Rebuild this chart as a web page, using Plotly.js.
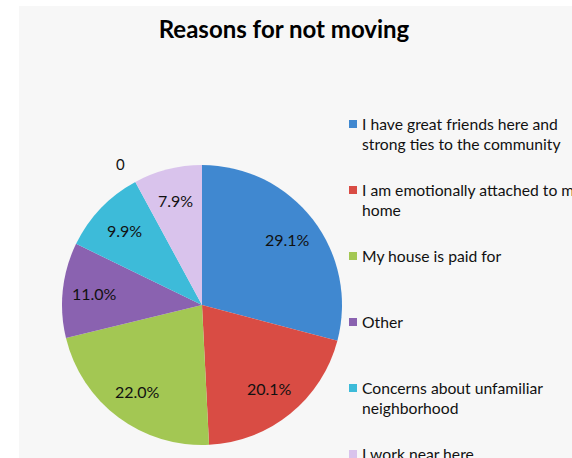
<!DOCTYPE html>
<html>
<head>
<meta charset="utf-8">
<script src="https://cdn.plot.ly/plotly-3.0.1.min.js"></script>
<style>html,body{margin:0;padding:0;background:#fff;}#chart{width:572px;height:458px;}</style>
</head>
<body>
<div id="chart"></div>
<script>
// Data
var categories = [
  "I have great friends here and<br>strong ties to the community",
  "I am emotionally attached to my<br>home",
  "My house is paid for",
  "Other",
  "Concerns about unfamiliar<br>neighborhood",
  "I work near here"
];
var percentValues = [29.1, 20.1, 22.0, 11.0, 9.9, 7.9];
var sliceColors = ["#4088d0", "#d94c44", "#a3c753", "#8a62b0", "#3dbbd9", "#d9c3ec"];
var strayLabel = "0";
var chartTitle = "Reasons for not moving";

var W = 572, H = 458;
function px(x){ return x / W; }
function py(y){ return 1 - y / H; }

var FONT = "Lato, 'Open Sans', sans-serif";

var cx = 202, cy = 305, r = 140;

var trace = {
  type: "pie",
  labels: categories.map(function(c){ return c.replace(/<br>/g, " "); }),
  values: percentValues,
  sort: false,
  direction: "clockwise",
  rotation: 0,
  marker: { colors: sliceColors, line: { width: 0 } },
  textinfo: "none",
  hoverinfo: "label+percent",
  showlegend: false,
  domain: { x: [px(cx - r), px(cx + r)], y: [py(cy + r), py(cy - r)] }
};

var shapes = [
  { type: "rect", xref: "paper", yref: "paper", x0: 0, x1: px(19), y0: 0, y1: 1, fillcolor: "#ffffff", line: { width: 0 }, layer: "above" },
  { type: "rect", xref: "paper", yref: "paper", x0: 0, x1: 1, y0: py(6), y1: 1, fillcolor: "#ffffff", line: { width: 0 }, layer: "above" }
];
var annotations = [
  { text: strayLabel, xref: "paper", yref: "paper", x: px(120), y: py(164), xanchor: "center", yanchor: "middle", showarrow: false, font: { family: FONT, size: 15, color: "#111" } }
];

// Data labels placed along each slice's mid-angle (Excel-style), computed from the values
var total = percentValues.reduce(function(a, b){ return a + b; }, 0);
var cum = 0;
percentValues.forEach(function(v, i){
  var mid = (cum + v / 2) / total * 2 * Math.PI; // clockwise from 12 o'clock
  cum += v;
  var dist = r * 0.77;
  var lx = cx + dist * Math.sin(mid);
  var ly = cy - dist * Math.cos(mid);
  annotations.push({ text: (v / total * 100).toFixed(1) + "%", xref: "paper", yref: "paper", x: px(lx), y: py(ly), xanchor: "center", yanchor: "middle", showarrow: false, font: { family: FONT, size: 16, color: "#111" } });
});

var legTop = 124, legStep = 66;
categories.forEach(function(c, i){
  var yc = legTop + i * legStep;
  shapes.push({ type: "rect", xref: "paper", yref: "paper", x0: px(349), x1: px(357), y0: py(yc + 4), y1: py(yc - 4), fillcolor: sliceColors[i], line: { width: 0 }, layer: "above" });
  annotations.push({ text: c, xref: "paper", yref: "paper", x: px(360), y: py(yc - 11), xanchor: "left", yanchor: "top", align: "left", showarrow: false, font: { family: FONT, size: 15.7, color: "#111" } });
});

var layout = {
  width: W, height: H,
  margin: { l: 0, r: 0, t: 0, b: 0 },
  paper_bgcolor: "#f7f7f7",
  showlegend: false,
  title: { text: "<b>" + chartTitle + "</b>", x: px(284), xanchor: "center", y: py(30), yanchor: "middle", yref: "container", font: { family: FONT, size: 24, color: "#000" } },
  shapes: shapes,
  annotations: annotations
};

Plotly.newPlot("chart", [trace], layout, { displayModeBar: false, responsive: false });
</script>
</body>
</html>
